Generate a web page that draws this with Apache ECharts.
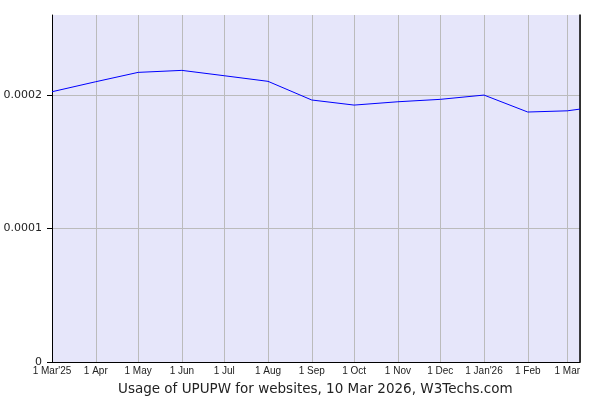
<!DOCTYPE html>
<html>
<head>
<meta charset="utf-8">
<script src="https://cdn.jsdelivr.net/npm/echarts@6/dist/echarts.min.js"></script>
<style>html,body{margin:0;padding:0;background:#fff;}#c{width:600px;height:400px;}</style>
</head>
<body>
<div id="c"></div>
<script>
var dates = ['2025-03-01','2025-04-01','2025-05-01','2025-06-01','2025-07-01','2025-08-01','2025-09-01','2025-10-01','2025-11-01','2025-12-01','2026-01-01','2026-02-01','2026-03-01','2026-03-10'];
var usage = [0.0002025,0.000210,0.000217,0.0002185,0.0002145,0.0002103,0.0001963,0.0001925,0.000195,0.0001968,0.0002,0.0001873,0.0001882,0.0001895];
var monthNames = ['Jan','Feb','Mar','Apr','May','Jun','Jul','Aug','Sep','Oct','Nov','Dec'];
var titleText = 'Usage of UPUPW for websites, 10 Mar 2026, W3Techs.com';

function toTime(s){var p=s.split('-');return new Date(+p[0],+p[1]-1,+p[2]).getTime();}
var xMin = toTime(dates[0]);
var xMax = toTime(dates[dates.length-1]);
var seriesData = dates.map(function(d,i){return [toTime(d), usage[i]];});

var chart = echarts.init(document.getElementById('c'), null, {renderer:'canvas'});
chart.setOption({
  animation:false,
  backgroundColor:'#ffffff',
  title:{text:titleText,left:113,top:377,
    textStyle:{fontFamily:'DejaVu Sans',fontSize:13.5,fontWeight:'normal',color:'#222'}},
  grid:{left:52,right:20,top:15,bottom:38,show:true,backgroundColor:'#e6e6fa',borderWidth:0},
  xAxis:{type:'time',min:xMin,max:xMax,minInterval:28*86400000,maxInterval:31*86400000,
    axisLine:{lineStyle:{color:'#000',width:1}},
    axisTick:{show:false},
    splitLine:{show:true,lineStyle:{color:'#bbbbbb',width:1}},
    axisLabel:{color:'#222',fontFamily:'Liberation Sans',fontSize:10,margin:4,showMaxLabel:false,
      formatter:function(v){var d=new Date(v);var m=d.getMonth();
        var s='1 '+monthNames[m];
        if(v===xMin || m===0){s+="'"+String(d.getFullYear()).slice(2);}
        return s;}}
  },
  yAxis:[{type:'value',min:0,max:0.00026,interval:0.0001,
    axisLine:{show:true,lineStyle:{color:'#000',width:1}},
    axisTick:{show:true,length:5,lineStyle:{color:'#000'}},
    splitLine:{show:true,lineStyle:{color:['#bbbbbb','#bbbbbb','#bbbbbb','rgba(0,0,0,0)'],width:1}},
    axisLabel:{color:'#222',fontFamily:'DejaVu Sans',fontSize:11,margin:10,showMaxLabel:false,
      formatter:function(v){return v===0?'0':String(Math.round(v*10000)/10000);}}
  },{type:'value',min:0,max:0.00026,position:'right',
    axisLine:{show:true,lineStyle:{color:'#000',width:1.5}},
    axisTick:{show:false},axisLabel:{show:false},splitLine:{show:false}}],
  series:[{type:'line',data:seriesData,showSymbol:false,symbol:'none',
    lineStyle:{color:'#0000ff',width:1},itemStyle:{color:'#0000ff'}}]
});
</script>
</body>
</html>
